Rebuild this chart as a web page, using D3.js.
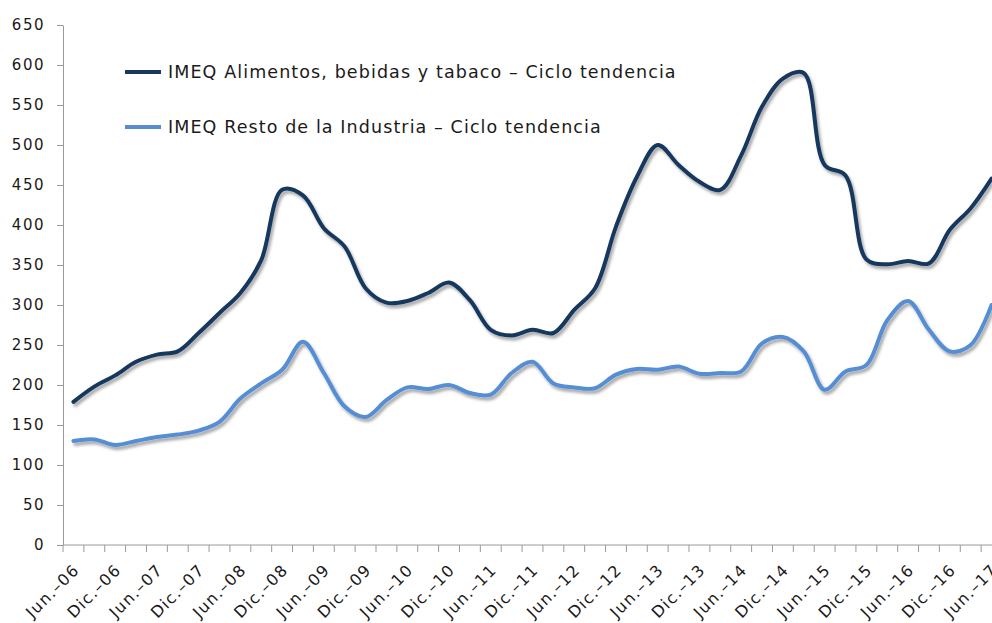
<!DOCTYPE html>
<html>
<head>
<meta charset="utf-8">
<script src="https://cdn.jsdelivr.net/npm/d3@7"></script>
<style>
  body { margin: 0; background: #fff; }
  text { font-family: "DejaVu Sans", sans-serif; fill: #1a1a1a; }
</style>
</head>
<body>
<svg id="chart"></svg>
<script>
// quarterly categories, Jun.-06 .. Jun.-17 (only Jun./Dic. are labelled)
const categories = [
  "Jun.–06", "Sep.–06", "Dic.–06", "Mar.–07", "Jun.–07", "Sep.–07", "Dic.–07", "Mar.–08",
  "Jun.–08", "Sep.–08", "Dic.–08", "Mar.–09", "Jun.–09", "Sep.–09", "Dic.–09", "Mar.–10",
  "Jun.–10", "Sep.–10", "Dic.–10", "Mar.–11", "Jun.–11", "Sep.–11", "Dic.–11", "Mar.–12",
  "Jun.–12", "Sep.–12", "Dic.–12", "Mar.–13", "Jun.–13", "Sep.–13", "Dic.–13", "Mar.–14",
  "Jun.–14", "Sep.–14", "Dic.–14", "Mar.–15", "Jun.–15", "Sep.–15", "Dic.–15", "Mar.–16",
  "Jun.–16", "Sep.–16", "Dic.–16", "Mar.–17", "Jun.–17"
]

const alimentos = [179, 198, 212, 229, 238, 242, 265, 290, 315, 356, 444, 437,
  396, 373, 321, 303, 305, 315, 328, 306, 269, 262, 269, 265, 294, 321, 398, 460,
  500, 475, 454, 444, 487, 548, 583, 590, 475, 462, 357, 351, 355, 352, 394, 421, 458]

const resto = [130, 132, 125, 130, 135, 138, 143, 154, 183, 202, 219, 254,
  215, 173, 160, 181, 197, 195, 200, 190, 188, 215, 229, 202, 197, 196, 213, 220,
  219, 223, 214, 215, 217, 252, 260, 242, 194, 217, 225, 281, 305, 269, 242, 250, 300]

const yTicks = d3.range(0, 651, 50)

const series = [
  {name: "IMEQ Alimentos, bebidas y tabaco – Ciclo tendencia", values: alimentos, color: "#17375E"},
  {name: "IMEQ Resto de la Industria – Ciclo tendencia", values: resto, color: "#558ED5"}
]

const width = 992, height = 623
const margin = {top: 25, right: -10, bottom: 78, left: 63}

const svg = d3.select("#chart").attr("width", width).attr("height", height)

const defs = svg.append("defs")
defs.append("filter").attr("id", "shadow")
    .attr("x", "-5%").attr("y", "-5%").attr("width", "110%").attr("height", "115%")
  .append("feDropShadow")
    .attr("dx", 2).attr("dy", 3).attr("stdDeviation", 1.5)
    .attr("flood-color", "#000").attr("flood-opacity", 0.35)

const x = d3.scaleBand()
    .domain(categories)
    .range([margin.left, width - margin.right])

const y = d3.scaleLinear()
    .domain([0, 650])
    .range([height - margin.bottom, margin.top])

// y axis
const yAxis = g => g
    .attr("transform", `translate(${margin.left},0)`)
    .call(d3.axisLeft(y).tickValues(yTicks).tickSize(6).tickPadding(12).tickSizeOuter(0))
    .call(g => g.selectAll("line, path").attr("stroke", "#9a9a9a"))
    .call(g => g.selectAll("text").attr("font-size", 15).style("letter-spacing", "1.5px"))

svg.append("g").call(yAxis)

// x axis: line, ticks at category edges, labels every 2nd category
const xg = svg.append("g")
xg.append("line")
    .attr("x1", margin.left).attr("x2", width)
    .attr("y1", y(0)).attr("y2", y(0))
    .attr("stroke", "#9a9a9a")
xg.selectAll(".tick")
  .data(d3.range(categories.length + 1))
  .join("line")
    .attr("x1", i => margin.left + i * x.bandwidth())
    .attr("x2", i => margin.left + i * x.bandwidth())
    .attr("y1", y(0)).attr("y2", y(0) + 7)
    .attr("stroke", "#9a9a9a")
xg.selectAll("text")
  .data(categories.filter((d, i) => i % 2 === 0))
  .join("text")
    .attr("transform", d => `translate(${x(d) + x.bandwidth() / 2 - 1},${y(0) + 18}) rotate(-45)`)
    .attr("text-anchor", "end")
    .attr("dy", "0.7em")
    .attr("font-size", 16)
    .style("letter-spacing", "1.3px")
    .text(d => d)

const line = d3.line()
    .x((d, i) => x(categories[i]) + x.bandwidth() / 2)
    .y(d => y(d))
    .curve(d3.curveCatmullRom.alpha(0.5))

svg.append("g").attr("filter", "url(#shadow)")
  .selectAll("path")
  .data(series)
  .join("path")
    .attr("fill", "none")
    .attr("stroke", d => d.color)
    .attr("stroke-width", 4)
    .attr("stroke-linejoin", "round")
    .attr("stroke-linecap", "round")
    .attr("d", d => line(d.values))

// legend
const legend = svg.append("g")
    .selectAll("g")
    .data(series)
    .join("g")
      .attr("transform", (d, i) => `translate(125,${72 + i * 55})`)
legend.append("line")
    .attr("x1", 0).attr("x2", 36)
    .attr("stroke", d => d.color)
    .attr("stroke-width", 4)
legend.append("text")
    .attr("x", 43)
    .attr("dy", "0.35em")
    .attr("font-size", 17.5)
    .style("letter-spacing", "1.1px")
    .text(d => d.name)
</script>
</body>
</html>
